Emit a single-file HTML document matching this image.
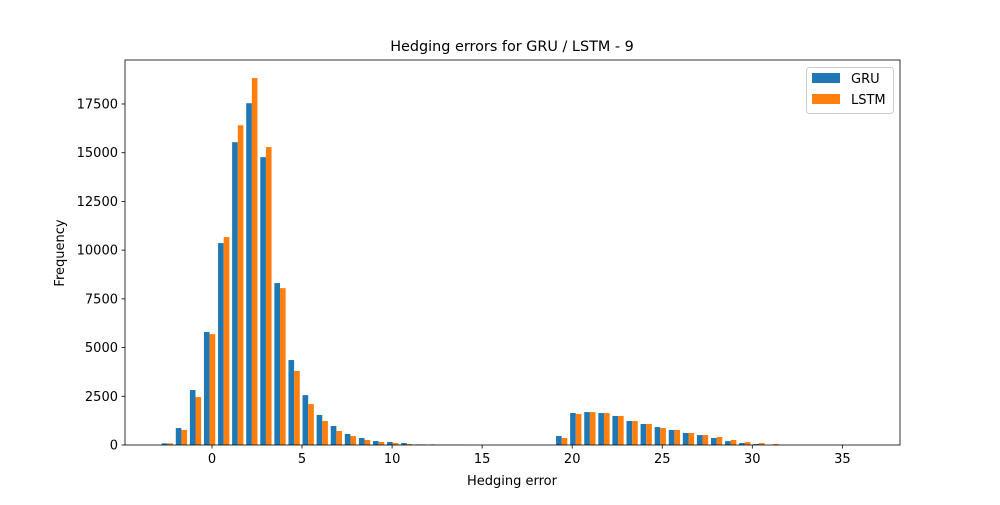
<!DOCTYPE html>
<html><head><meta charset="utf-8"><style>
body{margin:0;background:#fff;font-family:"Liberation Sans","DejaVu Sans",sans-serif}
</style></head><body>
<svg width="1000" height="500" xmlns="http://www.w3.org/2000/svg" font-family="'DejaVu Sans','Liberation Sans',sans-serif">
<rect width="1000" height="500" fill="#fff"/>
<g id="bars"></g>
<g id="axes"></g>
<text x="512" y="51" text-anchor="middle" font-size="14.4">Hedging errors for GRU / LSTM - 9</text>
<text x="512" y="485" text-anchor="middle" font-size="13">Hedging error</text>
<text x="64" y="253" text-anchor="middle" font-size="13" transform="rotate(-90 64 253)">Frequency</text>
<g>
<rect x="806.5" y="67.5" width="87" height="46" rx="3" fill="#fff" stroke="#ccc"/>
<rect x="812" y="73" width="28" height="10" fill="#1f77b4"/>
<text x="851" y="83" font-size="13">GRU</text>
<rect x="812" y="94" width="28" height="10" fill="#ff7f0e"/>
<text x="851" y="104" font-size="13">LSTM</text>
</g>
</svg>
<script>
const binStart = -2.87;
const binWidth = 0.782;
const gru = [85,870,2820,5800,10360,15540,17540,14770,8310,4360,2560,1540,975,565,360,205,154,100,30,30,20,10,0,0,0,0,0,0,460,1640,1690,1640,1490,1230,1080,920,770,615,510,360,200,100,50,0,0,0,0,0,0,0];
const lstm = [85,770,2460,5690,10670,16410,18830,15290,8050,3800,2100,1230,720,460,256,154,100,50,30,20,10,5,0,0,0,0,0,0,360,1590,1690,1640,1490,1230,1080,870,770,615,510,410,256,150,100,50,0,0,0,0,0,0];
const xTicks = [0,5,10,15,20,25,30,35];
const yTicks = [0,2500,5000,7500,10000,12500,15000,17500];
const L=125,R=900,T=60,B=445,xmin=-4.83,xmax=38.2,ymax=19757;
const sx=v=>L+(v-xmin)/(xmax-xmin)*(R-L);
const sy=v=>B-v/ymax*(B-T);
const NS='http://www.w3.org/2000/svg';
const bars=document.getElementById('bars');
function bar(x0,x1,v,c,name){
  const r=document.createElementNS(NS,'rect');
  r.setAttribute('x',sx(x0));r.setAttribute('width',sx(x1)-sx(x0));
  r.setAttribute('y',sy(v));r.setAttribute('height',B-sy(v));r.setAttribute('fill',c);
  
  
  bars.appendChild(r);
}
const bw=binWidth*0.4;
gru.forEach((v,i)=>{const e=binStart+i*binWidth+binWidth*0.1;bar(e,e+bw,v,'#1f77b4','bar-gru');});
lstm.forEach((v,i)=>{const e=binStart+i*binWidth+binWidth*0.1+bw;bar(e,e+bw,v,'#ff7f0e','bar-lstm');});
const ax=document.getElementById('axes');
let h=`<rect x="${L}" y="${T}" width="${R-L}" height="${B-T}" fill="none" stroke="#000" stroke-width="0.8"/>`;
xTicks.forEach(t=>{const x=sx(t);h+=`<line x1="${x}" x2="${x}" y1="${B}" y2="${B+3.5}" stroke="#000" stroke-width="0.8"/><text x="${x}" y="${B+18}" text-anchor="middle" font-size="13">${t}</text>`;});
yTicks.forEach(t=>{const y=sy(t);h+=`<line x1="${L}" x2="${L-3.5}" y1="${y}" y2="${y}" stroke="#000" stroke-width="0.8"/><text x="${L-7}" y="${y+4.5}" text-anchor="end" font-size="13">${t}</text>`;});
ax.innerHTML=h;


</script>
</body></html>
